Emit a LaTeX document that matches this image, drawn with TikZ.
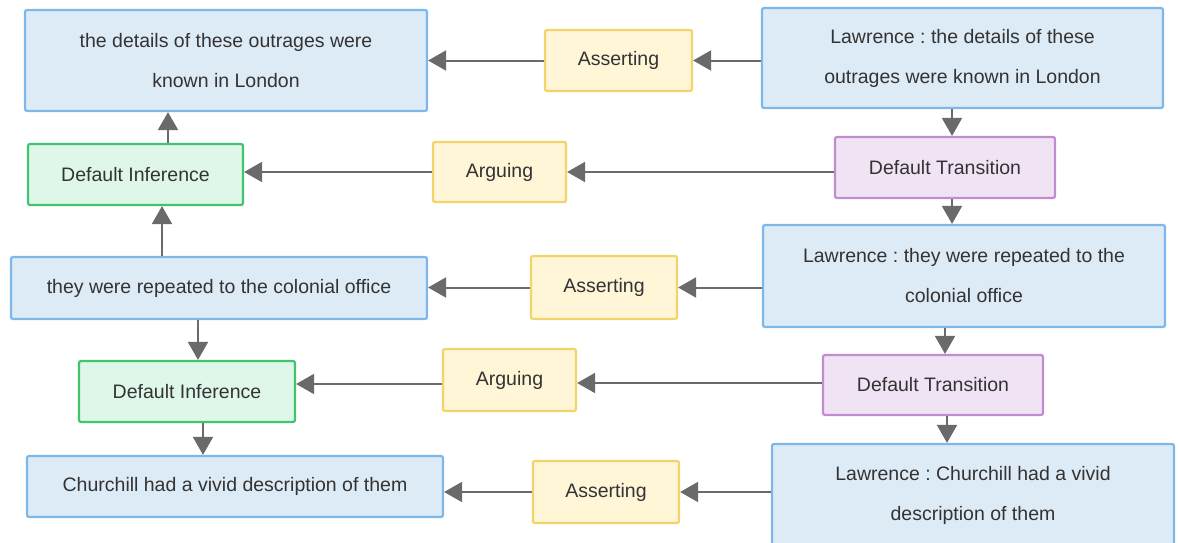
\documentclass[tikz,border=0pt]{standalone}
\usepackage{fontspec}
\setmainfont{Liberation Sans}
\usetikzlibrary{arrows.meta}
\frenchspacing
\definecolor{txt}{HTML}{333333}
\definecolor{edge}{HTML}{6A6A6A}
\definecolor{propfill}{HTML}{DDEBF7}
\definecolor{propline}{HTML}{7DB8E8}
\definecolor{ilfill}{HTML}{FFF6D8}
\definecolor{illine}{HTML}{F3D46A}
\definecolor{inffill}{HTML}{DEF7E9}
\definecolor{infline}{HTML}{40C470}
\definecolor{trfill}{HTML}{EFE3F4}
\definecolor{trline}{HTML}{C28CD2}
\tikzset{
  x=1pt, y=-1pt,
  base/.style={rectangle, rounded corners=2pt, line width=2.2pt, inner sep=0pt,
    align=center, text=txt, font=\fontsize{19.5}{40}\selectfont},
  prop/.style={base, fill=propfill, draw=propline},
  illoc/.style={base, fill=ilfill, draw=illine},
  infer/.style={base, fill=inffill, draw=infline},
  trans/.style={base, fill=trfill, draw=trline},
  conn/.style={draw=edge, line width=2pt,
    -{Triangle[length=18pt,width=20pt]}},
}
\begin{document}
\begin{tikzpicture}
\useasboundingbox (0,0) rectangle (1179,542);

% propositions (left column)
\node[prop, minimum width=402pt, minimum height=101pt] (a1) at (226,60.5)
  {the details of these outrages were\\known in London};
\node[prop, minimum width=416pt, minimum height=62pt] (a2) at (219,288)
  {they were repeated to the colonial office};
\node[prop, minimum width=416pt, minimum height=61pt] (a3) at (235,486.5)
  {Churchill had a vivid description of them};

% inferences
\node[infer, minimum width=215pt, minimum height=61pt] (di1) at (135.5,174.5) {Default Inference};
\node[infer, minimum width=216pt, minimum height=61pt] (di2) at (187,391.5) {Default Inference};

% illocutions
\node[illoc, minimum width=147pt, minimum height=61pt] (as1) at (618.5,60.5) {Asserting};
\node[illoc, minimum width=133pt, minimum height=60pt] (ar1) at (499.5,172) {Arguing};
\node[illoc, minimum width=146pt, minimum height=63pt] (as2) at (604,287.5) {Asserting};
\node[illoc, minimum width=133pt, minimum height=62pt] (ar2) at (509.5,380) {Arguing};
\node[illoc, minimum width=146pt, minimum height=62pt] (as3) at (606,492) {Asserting};

% locutions (right column)
\node[prop, minimum width=401pt, minimum height=100pt] (l1) at (962.5,58)
  {Lawrence : the details of these\\outrages were known in London};
\node[prop, minimum width=402pt, minimum height=102pt] (l2) at (964,276)
  {Lawrence : they were repeated to the\\colonial office};
\node[prop, minimum width=402pt, minimum height=102pt] (l3) at (973,495)
  {Lawrence : Churchill had a vivid\\description of them};

% transitions
\node[trans, minimum width=220pt, minimum height=61pt] (dt1) at (945,167.5) {Default Transition};
\node[trans, minimum width=220pt, minimum height=60pt] (dt2) at (933,385) {Default Transition};

% anchoring
\draw[conn] (l1.west |- as1) -- (as1.east);
\draw[conn] (as1.west) -- (a1.east |- as1);
\draw[conn] (l2.west |- as2) -- (as2.east);
\draw[conn] (as2.west) -- (a2.east |- as2);
\draw[conn] (l3.west |- as3) -- (as3.east);
\draw[conn] (as3.west) -- (a3.east |- as3);

% transitions between locutions
\draw[conn] (l1.south -| 952,0) -- (dt1.north -| 952,0);
\draw[conn] (dt1.south -| 952,0) -- (l2.north -| 952,0);
\draw[conn] (l2.south -| 945,0) -- (dt2.north -| 945,0);
\draw[conn] (dt2.south -| 947,0) -- (l3.north -| 947,0);

% arguing
\draw[conn] (dt1.west |- ar1) -- (ar1.east);
\draw[conn] (ar1.west) -- (di1.east |- ar1);
\draw[conn] (dt2.west |- 0,383) -- (ar2.east |- 0,383);
\draw[conn] (ar2.west |- 0,384) -- (di2.east |- 0,384);

% inference structure
\draw[conn] (di1.north -| 168,0) -- (a1.south -| 168,0);
\draw[conn] (a2.north -| 162,0) -- (di1.south -| 162,0);
\draw[conn] (a2.south -| 198,0) -- (di2.north -| 198,0);
\draw[conn] (di2.south -| 203,0) -- (a3.north -| 203,0);
\end{tikzpicture}
\end{document}
